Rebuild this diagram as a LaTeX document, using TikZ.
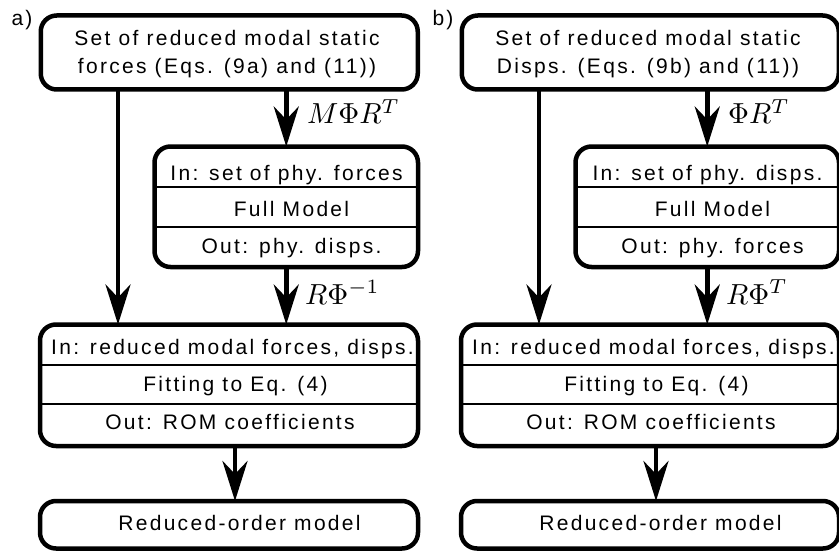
\documentclass[tikz,border=0pt]{standalone}
\usepackage{fontspec}
\setmainfont{Liberation Sans}[LetterSpace=11]
\usetikzlibrary{arrows.meta}
\newcommand\drawpanel[8]{%
\begin{scope}[xshift=#2]
\node[txt] (#1lab) at (22,26) {#3};
\node[box, minimum width=377pt, minimum height=74pt] (#1T) at (229.25,52.5) {};
\node[txt] (#1ta) at (227,45.5) {Set of reduced modal static};
\node[txt] (#1tb) at (227,74) {#4};
\node[box, minimum width=263.5pt, minimum height=120.5pt] (#1M) at (286.25,206.75) {};
\draw[sepline] (#1M.west |- 0,187) -- (#1M.east |- 0,187);
\draw[sepline] (#1M.west |- 0,227) -- (#1M.east |- 0,227);
\node[txt] (#1ma) at (286.5,180) {#6};
\node[txt] (#1mb) at (291.5,216.7) {Full Model};
\node[txt] (#1mc) at (291.5,253.3) {#7};
\node[box, minimum width=378pt, minimum height=121.5pt] (#1B) at (229,385.25) {};
\draw[sepline] (#1B.west |- 0,365) -- (#1B.east |- 0,365);
\draw[sepline] (#1B.west |- 0,404) -- (#1B.east |- 0,404);
\node[txt] (#1ba) at (232.5,354) {In: reduced modal forces, disps.};
\node[txt] (#1bb) at (235.5,391.7) {Fitting to Eq. (4)};
\node[txt] (#1bc) at (230,429.3) {Out: ROM coefficients};
\node[box, minimum width=378pt, minimum height=47.5pt] (#1F) at (229,524.75) {};
\node[txt] (#1fa) at (239.5,530.7) {Reduced-order model};
\coordinate (#1la) at (118,0);
\coordinate (#1lb) at (235,0);
\draw[arr] (#1T.south -| #1la) -- (#1B.north -| #1la);
\draw[arr] (#1T.south -| #1M.north) -- (#1M.north);
\draw[arr] (#1M.south) -- (#1B.north -| #1M.south);
\draw[arr] (#1B.south -| #1lb) -- (#1F.north -| #1lb);
\node[mlabel] (#1mla) at (307,124) {\scalebox{2.9}{#5}};
\node[mlabel] (#1mlb) at (305,304) {\scalebox{2.9}{#8}};
\end{scope}}
\begin{document}
\begin{tikzpicture}[x=1pt,y=-1pt,
  font=\fontsize{21}{25}\selectfont,
  box/.style={draw, line width=4.5pt, rounded corners=16pt, inner sep=0pt, outer sep=0pt},
  sepline/.style={line width=1.6pt},
  txt/.style={inner sep=0pt, anchor=base},
  mlabel/.style={inner sep=0pt, anchor=base west, font=\fontsize{10}{12}\selectfont},
  arr/.style={line width=4.5pt, -{Stealth[length=40pt,width=25pt,inset=13pt]}}]
\useasboundingbox (0,0) rectangle (839,551);
\drawpanel{a}{0pt}{a)}{forces (Eqs. (9a) and (11))}{$M\Phi R^T$}{In: set of phy. forces}{Out: phy. disps.}{$R\Phi^{-1}$}
\drawpanel{b}{421pt}{b)}{Disps. (Eqs. (9b) and (11))}{$\Phi R^T$}{In: set of phy. disps.}{Out: phy. forces}{$R\Phi^{T}$}
\end{tikzpicture}
\end{document}
